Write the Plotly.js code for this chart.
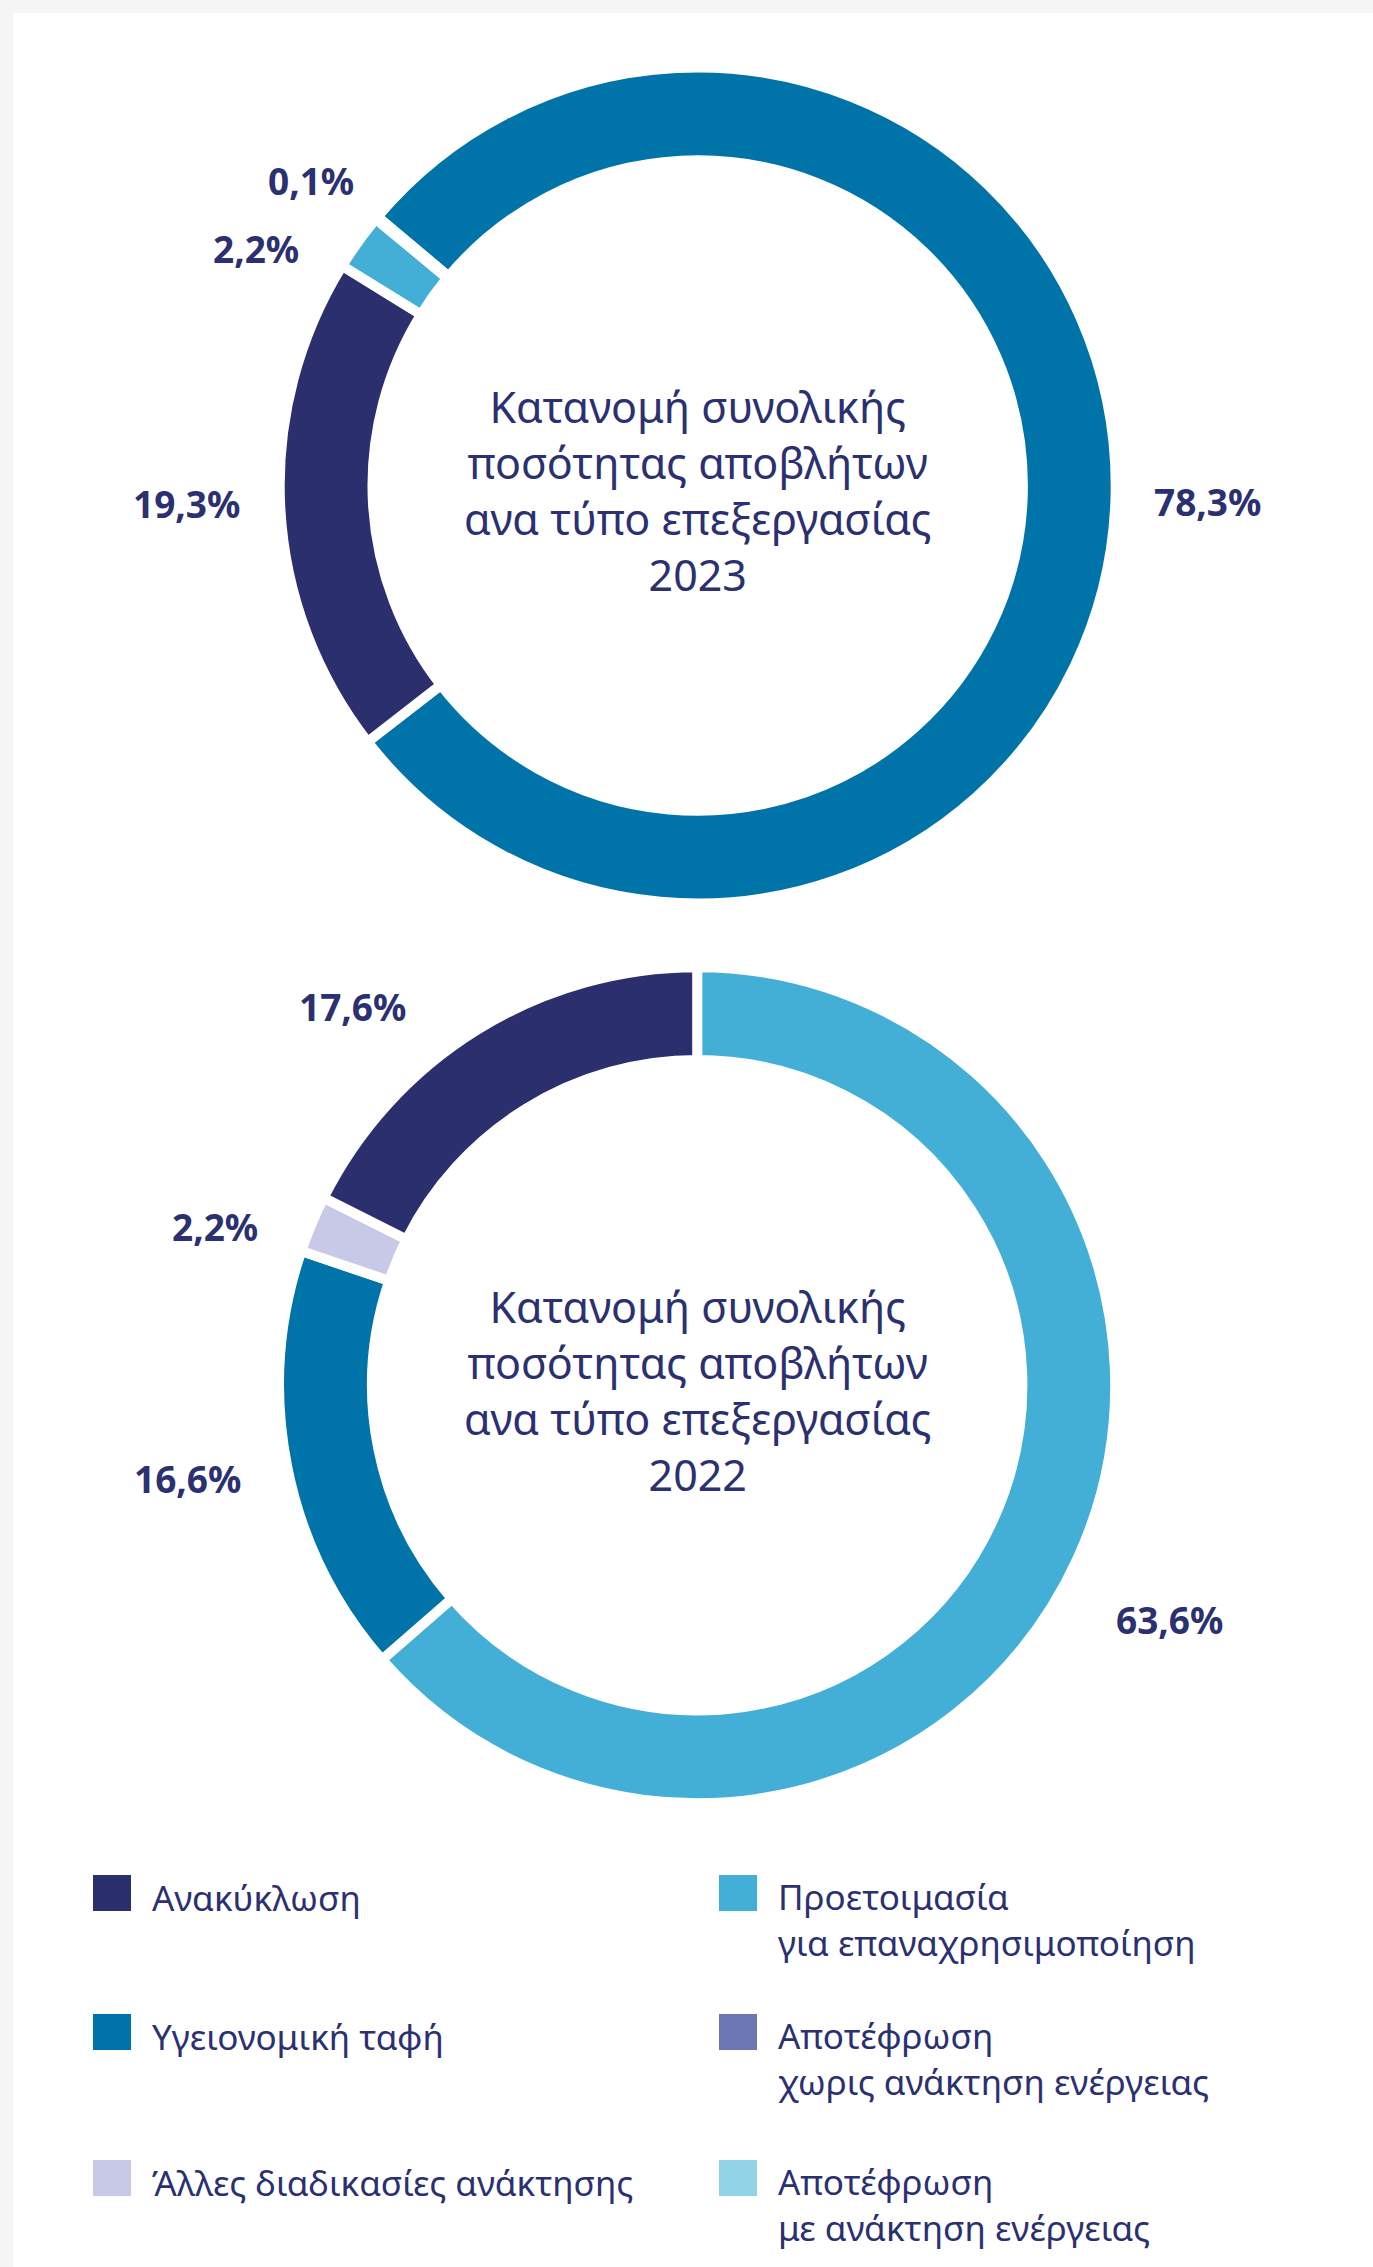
<!DOCTYPE html>
<html>
<head>
<meta charset="utf-8">
<script src="https://cdn.plot.ly/plotly-3.0.1.min.js"></script>
<style>
  html, body { margin: 0; padding: 0; background: #f5f5f5; }
  #chart { width: 1373px; height: 2267px; }
</style>
</head>
<body>
<div id="chart"></div>
<script>
// ---------- DATA ----------
const categories = [
  'Ανακύκλωση',
  'Προετοιμασία για επαναχρησιμοποίηση',
  'Υγειονομική ταφή',
  'Αποτέφρωση χωρις ανάκτηση ενέργειας',
  'Άλλες διαδικασίες ανάκτησης',
  'Αποτέφρωση με ανάκτηση ενέργειας'
];
const legendLines = [
  ['Ανακύκλωση'],
  ['Προετοιμασία', 'για επαναχρησιμοποίηση'],
  ['Υγειονομική ταφή'],
  ['Αποτέφρωση', 'χωρις ανάκτηση ενέργειας'],
  ['Άλλες διαδικασίες ανάκτησης'],
  ['Αποτέφρωση', 'με ανάκτηση ενέργειας']
];
const categoryColors = ['#2b2f6e', '#43afd6', '#0073a9', '#6b76b4', '#c8c9e6', '#92d3e8'];

// 2023 slices (clockwise order)
const labels2023 = ['Υγειονομική ταφή', 'Ανακύκλωση', 'Προετοιμασία για επαναχρησιμοποίηση', 'Άλλες διαδικασίες ανάκτησης'];
const values2023 = [78.3, 19.3, 2.2, 0.1];
// 2022 slices (clockwise order)
const labels2022 = ['Προετοιμασία για επαναχρησιμοποίηση', 'Υγειονομική ταφή', 'Άλλες διαδικασίες ανάκτησης', 'Ανακύκλωση'];
const values2022 = [63.6, 16.6, 2.2, 17.6];

const titleLines2023 = ['Κατανομή συνολικής', 'ποσότητας αποβλήτων', 'ανα τύπο επεξεργασίας', '2023'];
const titleLines2022 = ['Κατανομή συνολικής', 'ποσότητας αποβλήτων', 'ανα τύπο επεξεργασίας', '2022'];

// ---------- LAYOUT HELPERS ----------
const W = 1373, H = 2267;
const px = v => v / W;
const py = v => 1 - v / H;
const NAVY = '#2b3070';
const FONT = '"Noto Sans", "Open Sans", "DejaVu Sans", sans-serif';

function colorOf(label) { return categoryColors[categories.indexOf(label)]; }
function fmt(v) { return v.toFixed(1).replace('.', ',') + '%'; }

const R = 418;          // outer radius incl. stroke
const HOLE = 0.778;
const donuts = [
  { cx: 697.7, cy: 485.5, labels: labels2023, values: values2023, rotation: -50, title: titleLines2023,
    labelPos: [[1207, 501], [186, 503], [256, 248], [311, 181]] },
  { cx: 697.2, cy: 1385.2, labels: labels2022, values: values2022, rotation: 0, title: titleLines2022,
    labelPos: [[1169, 1619], [187, 1478], [215, 1226], [352, 1007]] }
];
const titleCenterOffset = 5;

const traces = [];
const annotations = [];
const shapes = [];

// white panel
shapes.push({ type: 'rect', xref: 'paper', yref: 'paper', layer: 'below',
  x0: px(13), x1: 1, y0: 0, y1: py(13), fillcolor: '#ffffff', line: { width: 0 } });

donuts.forEach(d => {
  traces.push({
    type: 'pie',
    labels: d.labels,
    values: d.values,
    sort: false,
    direction: 'clockwise',
    rotation: d.rotation,
    hole: HOLE,
    textinfo: 'none',
    hoverinfo: 'label+percent',
    showlegend: false,
    marker: { colors: d.labels.map(colorOf), line: { color: '#ffffff', width: 10 } },
    domain: { x: [px(d.cx - R), px(d.cx + R)], y: [py(d.cy + R), py(d.cy - R)] }
  });
  d.values.forEach((v, i) => {
    annotations.push({
      xref: 'paper', yref: 'paper', x: px(d.labelPos[i][0]), y: py(d.labelPos[i][1]),
      xanchor: 'center', yanchor: 'middle', showarrow: false,
      text: '<b>' + fmt(v) + '</b>',
      font: { family: FONT, size: 37, color: NAVY }
    });
  });
  annotations.push({
    xref: 'paper', yref: 'paper', x: px(d.cx), y: py(d.cy + titleCenterOffset),
    xanchor: 'center', yanchor: 'middle', showarrow: false, align: 'center',
    text: d.title.join('<br>'), font: { family: FONT, size: 43, color: NAVY }
  });
});

// legend (2 columns x 3 rows)
const colSquareX = [93, 719];
const colTextX = [150, 776];
const rowBaseline = [1911, 2050, 2196];
const LEG_SIZE = 35;
const legLineGap = LEG_SIZE * 1.3;
categories.forEach((c, i) => {
  const col = i % 2, row = Math.floor(i / 2);
  const base = rowBaseline[row];
  shapes.push({ type: 'rect', xref: 'paper', yref: 'paper',
    x0: px(colSquareX[col]), x1: px(colSquareX[col] + 38),
    y0: py(base), y1: py(base - 36),
    fillcolor: categoryColors[i], line: { width: 0 } });
  const n = legendLines[i].length;
  const firstMid = base - 14;
  const mid = firstMid + (n - 1) * legLineGap / 2;
  annotations.push({
    xref: 'paper', yref: 'paper', x: px(colTextX[col]), y: py(mid),
    xanchor: 'left', yanchor: 'middle', showarrow: false, align: 'left',
    text: legendLines[i].join('<br>'), font: { family: FONT, size: LEG_SIZE, color: NAVY }
  });
});

const layout = {
  width: W, height: H,
  margin: { l: 0, r: 0, t: 0, b: 0 },
  paper_bgcolor: '#f5f5f5',
  plot_bgcolor: '#ffffff',
  showlegend: false,
  shapes: shapes,
  annotations: annotations
};

Plotly.newPlot('chart', traces, layout, { displayModeBar: false, staticPlot: true });
</script>
</body>
</html>
